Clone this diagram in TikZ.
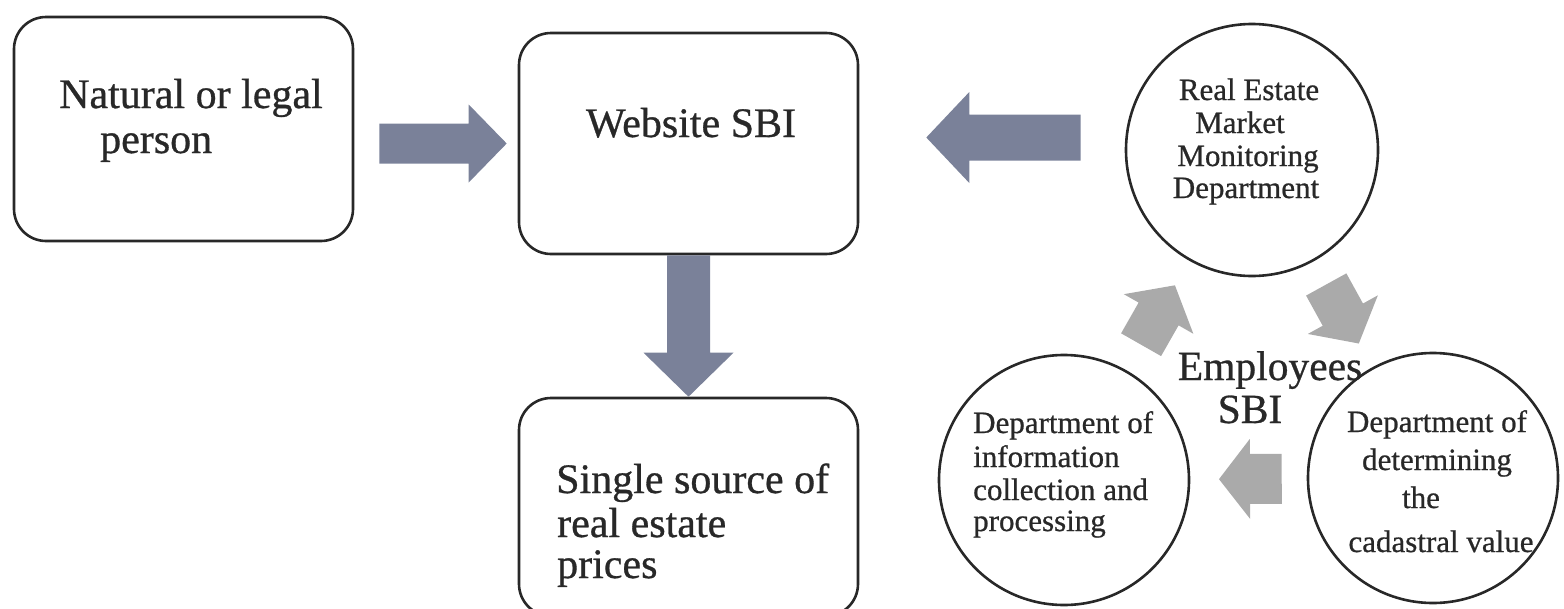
\documentclass[tikz,border=0pt]{standalone}
\usepackage{fontspec}
\setmainfont{Liberation Serif}[FakeBold=0.7]
\usetikzlibrary{calc}
\definecolor{slate}{RGB}{122,129,153}
\definecolor{lgray}{RGB}{170,170,170}
\definecolor{ink}{RGB}{40,40,40}
% block arrow: tail, tip, body half width, head half width, head length, colour
\newcommand\blockarr[6]{%
  \coordinate (hb) at ($(#2)!#5!(#1)$);
  \fill[#6] ($(#1)!#3!90:(#2)$) -- ($(hb)!#3!90:(#2)$) -- ($(hb)!#4!90:(#2)$)
    -- (#2) -- ($(hb)!#4!-90:(#2)$) -- ($(hb)!#3!-90:(#2)$) -- ($(#1)!#3!-90:(#2)$) -- cycle;
}
\begin{document}
\begin{tikzpicture}[x=1pt,y=-1pt,
  box/.style={draw=ink, line width=2.6pt, rounded corners=32pt, fill=white, inner sep=0pt},
  circ/.style={draw=ink, line width=2.6pt, circle, inner sep=0pt, fill=white},
  bigtxt/.style={font=\fontsize{42}{45}\selectfont, text=ink, inner sep=0pt},
  smalltxt/.style={font=\fontsize{31}{33}\selectfont, text=ink, inner sep=0pt},
  midtxt/.style={font=\fontsize{41.5}{44}\selectfont, text=ink, inner sep=0pt}]
\useasboundingbox (0,0) rectangle (1564,608);

% boxes
\node[box, minimum width=339pt, minimum height=224pt] (nat) at (183.5,129) {};
\node[box, minimum width=339pt, minimum height=221pt] (web) at (688.5,143.5) {};
\node[box, minimum width=339pt, minimum height=218pt] (src) at (688.5,507) {};

% circles
\node[circ, minimum size=252pt] (mon) at (1252,150) {};
\node[circ, minimum size=250pt] (cad) at (1433,478) {};
\node[circ, minimum size=250pt] (coll) at (1064,480) {};

% box texts
\node[bigtxt, anchor=base west] (nat1) at (59,108) {Natural or legal};
\node[bigtxt, anchor=base west] (nat2) at (100,153) {person};
\node[bigtxt, anchor=base] (web1) at (691,137) {Website SBI};
\node[bigtxt, anchor=base west] (src1) at (556,493) {Single source of};
\node[bigtxt, anchor=base west] (src2) at (557,537) {real estate};
\node[bigtxt, anchor=base west] (src3) at (557,578) {prices};

% circle texts
\node[smalltxt, anchor=base] (mon1) at (1249,100) {Real Estate};
\node[smalltxt, anchor=base] (mon2) at (1240,133) {Market};
\node[smalltxt, anchor=base] (mon3) at (1248,166) {Monitoring};
\node[smalltxt, anchor=base] (mon4) at (1246,198) {Department};

\node[smalltxt, anchor=base] (cad1) at (1437,432) {Department of};
\node[smalltxt, anchor=base] (cad2) at (1437,470) {determining};
\node[smalltxt, anchor=base] (cad3) at (1421,508) {the};
\node[smalltxt, anchor=base] (cad4) at (1441,552) {cadastral value};

\node[smalltxt, anchor=base west] (col1) at (973,433) {Department of};
\node[smalltxt, anchor=base west] (col2) at (973,467) {information};
\node[smalltxt, anchor=base west] (col3) at (973,500) {collection and};
\node[smalltxt, anchor=base west] (col4) at (973,531) {processing};

\node[midtxt, anchor=base] (emp1) at (1270,380) {Employees};
\node[midtxt, anchor=base] (emp2) at (1250,423) {SBI};

% dark block arrows
\coordinate (a1s) at ($(nat.east |- web.center)+(25,0)$);
\coordinate (a1e) at ($(web.west)+(-11,0)$);
\blockarr{a1s}{a1e}{20pt}{39pt}{38pt}{slate}

\coordinate (a2s) at (web.south);
\coordinate (a2e) at (src.north);
\blockarr{a2s}{a2e}{21.5pt}{45pt}{44pt}{slate}

\coordinate (a3s) at ($(mon.west |- web.center)+(-44,-6)$);
\coordinate (a3e) at ($(web.east)+(67,-6)$);
\blockarr{a3s}{a3e}{23pt}{45.5pt}{43pt}{slate}

% grey cycle arrows
\coordinate (g1s) at ($(coll)!0.41!(mon)$);
\coordinate (g1e) at ($(coll)!0.59!(mon)$);
\blockarr{g1s}{g1e}{23pt}{40pt}{33pt}{lgray}

\coordinate (g2s) at ($(mon)!0.41!(cad)$);
\coordinate (g2e) at ($(mon)!0.59!(cad)$);
\blockarr{g2s}{g2e}{23pt}{40pt}{33pt}{lgray}

\coordinate (g3s) at ($(cad)!0.41!(coll)$);
\coordinate (g3e) at ($(cad)!0.58!(coll)$);
\blockarr{g3s}{g3e}{25pt}{40pt}{31pt}{lgray}
\end{tikzpicture}
\end{document}
